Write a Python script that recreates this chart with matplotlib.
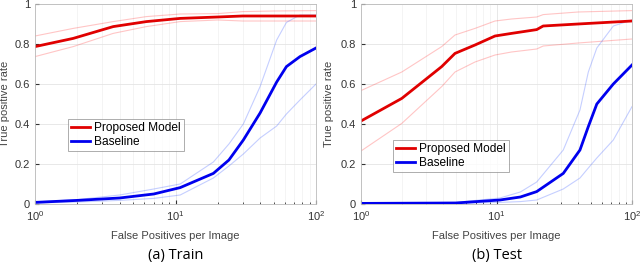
import numpy as np
import matplotlib.pyplot as plt

plt.rcParams['font.family'] = ['Liberation Sans', 'DejaVu Sans']

# train: proposed model (mean, upper, lower)
tr_red_x = [1, 1.87, 3.6, 6.2, 10.8, 20, 30, 50, 100]
tr_red = [0.787, 0.828, 0.887, 0.912, 0.928, 0.935, 0.94, 0.94, 0.94]
tr_red_up = [0.84, 0.878, 0.912, 0.937, 0.95, 0.952, 0.962, 0.965, 0.967]
tr_red_lo = [0.737, 0.787, 0.853, 0.887, 0.912, 0.92, 0.915, 0.915, 0.915]
# train: baseline
tr_blue_x = [1, 2, 4, 7, 10.8, 18.6, 24, 30.4, 40, 52.5, 61.6, 76.9, 100]
tr_blue = [0.008, 0.018, 0.03, 0.05, 0.082, 0.153, 0.22, 0.32, 0.455, 0.61, 0.687, 0.737, 0.78]
tr_blue_up = [0.01, 0.022, 0.045, 0.075, 0.10, 0.21, 0.30, 0.40, 0.587, 0.82, 0.908, 0.945, 0.945]
tr_blue_lo = [0.005, 0.01, 0.018, 0.028, 0.045, 0.13, 0.19, 0.25, 0.33, 0.39, 0.45, 0.52, 0.60]

# test: proposed model
te_red_x = [1, 2, 3.94, 4.94, 6.94, 9.75, 12.9, 19.8, 22.1, 40, 100]
te_red = [0.415, 0.528, 0.687, 0.753, 0.795, 0.84, 0.853, 0.872, 0.89, 0.9, 0.915]
te_red_up = [0.567, 0.66, 0.787, 0.845, 0.878, 0.915, 0.925, 0.935, 0.947, 0.96, 0.967]
te_red_lo = [0.265, 0.403, 0.587, 0.66, 0.71, 0.745, 0.76, 0.775, 0.79, 0.805, 0.825]
# test: baseline
te_blue_x = [1, 5, 10.6, 15, 19.8, 31.1, 41.3, 47.6, 55, 72.8, 100]
te_blue = [0.003, 0.005, 0.02, 0.035, 0.062, 0.153, 0.27, 0.387, 0.50, 0.60, 0.695]
te_blue_up = [0.004, 0.008, 0.03, 0.06, 0.11, 0.27, 0.47, 0.66, 0.78, 0.89, 0.92]
te_blue_lo = [0.002, 0.003, 0.008, 0.012, 0.02, 0.075, 0.13, 0.18, 0.23, 0.32, 0.487]

fig = plt.figure(figsize=(6.4, 2.63), dpi=100)


def draw(ax, rx, r, rup, rlo, bx, b, bup, blo, caption, ylab_x, leg_y):
    ax.semilogx(rx, rup, color='#ff4040', lw=0.8, alpha=0.3)
    ax.semilogx(rx, rlo, color='#ff4040', lw=0.8, alpha=0.3)
    ax.semilogx(bx, bup, color='#4060ff', lw=0.8, alpha=0.3)
    ax.semilogx(bx, blo, color='#4060ff', lw=0.8, alpha=0.3)
    ax.semilogx(rx, r, color='#e00000', lw=2, label='Proposed Model')
    ax.semilogx(bx, b, color='#0000ee', lw=2, label='Baseline')
    ax.set_xlim(1, 100)
    ax.set_ylim(0, 1)
    ax.set_yticks([0, 0.2, 0.4, 0.6, 0.8, 1])
    ax.set_yticklabels(['0', '0.2', '0.4', '0.6', '0.8', '1'])
    ax.grid(True, which='major', color='#e4e4e4', lw=0.6)
    ax.grid(True, which='minor', color='#f0f0f0', lw=0.5)
    ax.tick_params(which='both', direction='in', labelsize=8, colors='#333333', length=3)
    ax.tick_params(which='minor', length=1.5)
    for s in ax.spines.values():
        s.set_color('#bbbbbb')
        s.set_linewidth(0.6)
    ax.set_xlabel('False Positives per Image', fontsize=8, color='#444444', labelpad=6)
    ax.set_ylabel('True positive rate', fontsize=8, color='#444444')
    ax.yaxis.set_label_coords(ylab_x, 0.5)
    leg = ax.legend(loc='center left', bbox_to_anchor=(0.095, leg_y), fontsize=8.6, frameon=True,
                    fancybox=False, edgecolor='#888888', handlelength=1.6,
                    borderpad=0.3, labelspacing=0.15, handletextpad=0.3)
    leg.get_frame().set_linewidth(0.6)
    ax.text(0.5, -0.255, caption, transform=ax.transAxes, ha='center', va='center',
            fontsize=10.5, family='Open Sans')


ax1 = fig.add_axes([35 / 640, 59 / 263, 281 / 640, 200 / 263])
draw(ax1, tr_red_x, tr_red, tr_red_up, tr_red_lo, tr_blue_x, tr_blue, tr_blue_up, tr_blue_lo,
     '(a) Train', -0.09, 0.345)
ax2 = fig.add_axes([361 / 640, 59 / 263, 271 / 640, 200 / 263])
draw(ax2, te_red_x, te_red, te_red_up, te_red_lo, te_blue_x, te_blue, te_blue_up, te_blue_lo,
     '(b) Test', -0.1, 0.24)

fig.savefig('out.png', dpi=100)
